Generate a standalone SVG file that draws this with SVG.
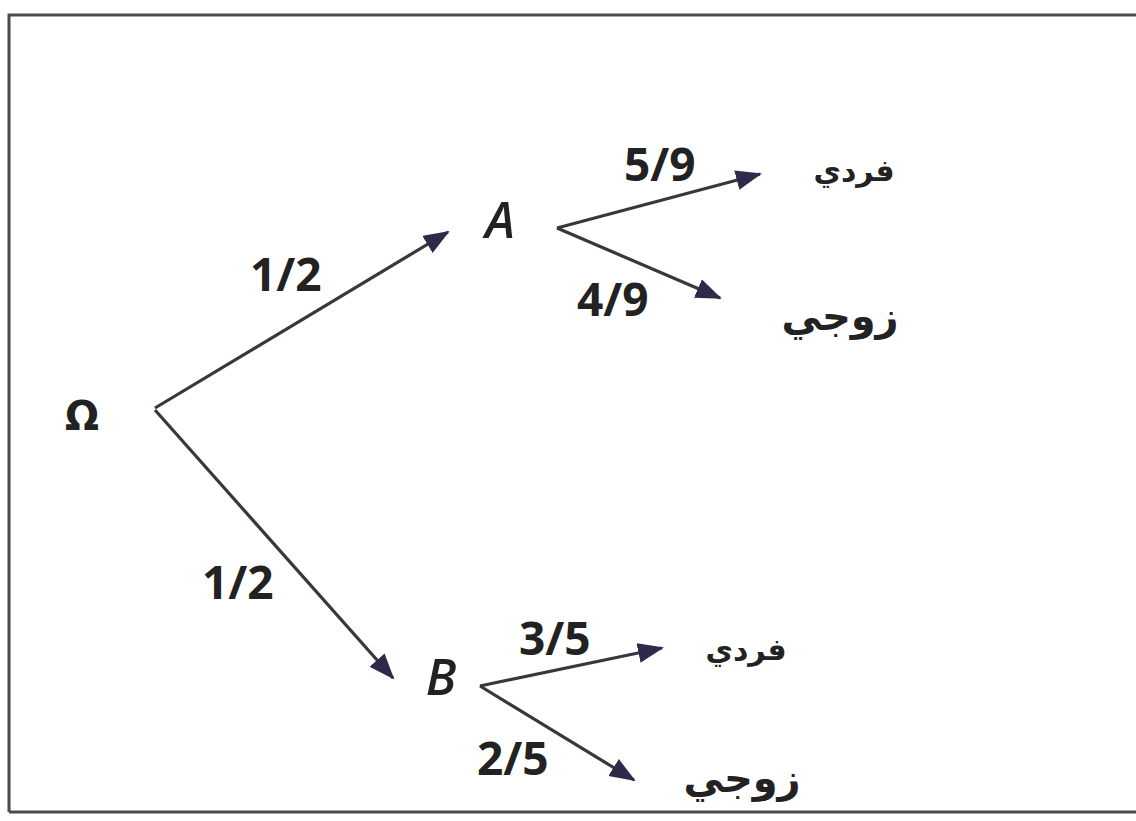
<svg xmlns="http://www.w3.org/2000/svg" width="1136" height="821" viewBox="0 0 1136 821">
<style>
.frame{stroke:#4a4a4a;stroke-width:3;fill:none}
.edge{stroke:#3a3640;stroke-width:3.2;fill:none;marker-end:url(#ah)}
.frac{font-family:"Open Sans","Liberation Sans",sans-serif;font-weight:700;font-size:46px;fill:#222}
.node{font-family:"Open Sans","Liberation Sans",sans-serif;font-style:italic;font-weight:600;font-size:50px;fill:#222}
.omega{font-family:"DejaVu Sans","Liberation Sans",sans-serif;font-weight:700;font-size:40px;fill:#222}
.ar{font-family:"DejaVu Sans","Noto Sans",sans-serif;font-weight:700;fill:#222}
</style>
<defs>
<marker id="ah" markerUnits="userSpaceOnUse" markerWidth="30" markerHeight="24" refX="24" refY="10" orient="auto">
<path d="M0,0 L26,10 L0,20 z" fill="#2e2a4a"/>
</marker>
</defs>
<rect width="1136" height="821" fill="#ffffff"/>
<g id="frame">
<path class="frame" d="M9,812 L9,15 L1136,15"/>
<path class="frame" d="M9,812 L1136,812"/>
</g>
<g id="connectors">
<line class="edge" x1="155" y1="408" x2="448" y2="232"/>
<line class="edge" x1="155" y1="410" x2="393" y2="678"/>
<line class="edge" x1="557" y1="228" x2="760" y2="174"/>
<line class="edge" x1="557" y1="228" x2="720" y2="298"/>
<line class="edge" x1="480" y1="686" x2="662" y2="648"/>
<line class="edge" x1="480" y1="686" x2="634" y2="780"/>
<text class="frac" x="250" y="291">1/2</text>
<text class="frac" x="202" y="599">1/2</text>
<text class="frac" x="624" y="181">5/9</text>
<text class="frac" x="577" y="316">4/9</text>
<text class="frac" x="519" y="655">3/5</text>
<text class="frac" x="477" y="775">2/5</text>
</g>
<g id="node-omega"><text class="omega" x="82" y="430" text-anchor="middle">Ω</text></g>
<g id="node-A"><text class="node" x="500" y="238" text-anchor="middle">A</text></g>
<g id="node-B"><text class="node" x="441" y="695" text-anchor="middle">B</text></g>
<g id="node-A-odd"><text class="ar" x="854" y="181" font-size="30" text-anchor="middle" direction="rtl">فردي</text></g>
<g id="node-A-even"><text class="ar" x="840" y="330" font-size="40" text-anchor="middle" direction="rtl">زوجي</text></g>
<g id="node-B-odd"><text class="ar" x="746" y="660" font-size="30" text-anchor="middle" direction="rtl">فردي</text></g>
<g id="node-B-even"><text class="ar" x="742" y="792" font-size="40" text-anchor="middle" direction="rtl">زوجي</text></g>
</svg>
